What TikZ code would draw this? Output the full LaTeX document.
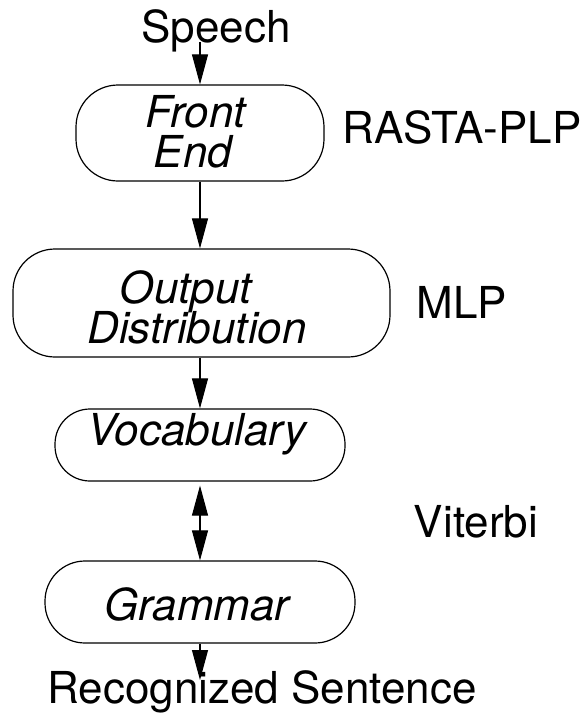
\documentclass[tikz,border=0pt]{standalone}
\usepackage{fontspec}
\setmainfont{TeX Gyre Heros}
\usetikzlibrary{arrows.meta}
\begin{document}
\begin{tikzpicture}[x=1pt,y=-1pt,
  box/.style={draw, line width=1.2pt, rounded corners=42pt, inner sep=0pt},
  lbl/.style={font=\fontsize{44}{44}\selectfont, inner sep=0pt, anchor=base},
  ital/.style={font=\fontsize{44}{44}\selectfont\itshape, inner sep=0pt, anchor=base},
  arr/.style={line width=1.1pt, -{Triangle[length=30pt,width=16pt]}},
  biarr/.style={line width=1.1pt, {Triangle[length=30pt,width=16pt]}-{Triangle[length=30pt,width=16pt]}}
]
\useasboundingbox (0,0) rectangle (585,716);

% boxes
\node[box, minimum width=248pt, minimum height=96pt] (fe) at (200,133) {};
\node[box, minimum width=377pt, minimum height=108pt] (od) at (201.5,303) {};
\node[box, minimum width=290pt, minimum height=72pt, rounded corners=35pt] (vo) at (200,445) {};
\node[box, minimum width=310pt, minimum height=82pt, rounded corners=40pt] (gr) at (200,602) {};

% texts in boxes
\node[ital] (fet1) at (196,127) {Front};
\node[ital] (fet2) at (193,167) {End};
\node[ital] (odt1) at (186,303) {Output};
\node[ital] (odt2) at (197,343) {Distribution};
\node[ital] (vot) at (197,445) {Vocabulary};
\node[ital] (grt) at (197,620) {Grammar};

% outside labels
\node[lbl] (speech) at (216,42) {Speech};
\node[lbl] (rasta) at (462,143) {RASTA-PLP};
\node[lbl] (mlp) at (462,318) {MLP};
\node[lbl] (viterbi) at (476,537) {Viterbi};
\node[lbl] (rs) at (262,703) {Recognized Sentence};

\coordinate (rsin) at (200,680);

% connectors
\draw[arr] (speech.base -| fe.north) -- (fe.north);
\draw[arr] (fe.south) -- (fe.south |- od.north);
\draw[arr] (od.south -| vo.north) -- (vo.north);
\draw[biarr, shorten <=4pt] (vo.south) -- (gr.north);
\draw[arr] (gr.south) -- (rsin);
\end{tikzpicture}
\end{document}
